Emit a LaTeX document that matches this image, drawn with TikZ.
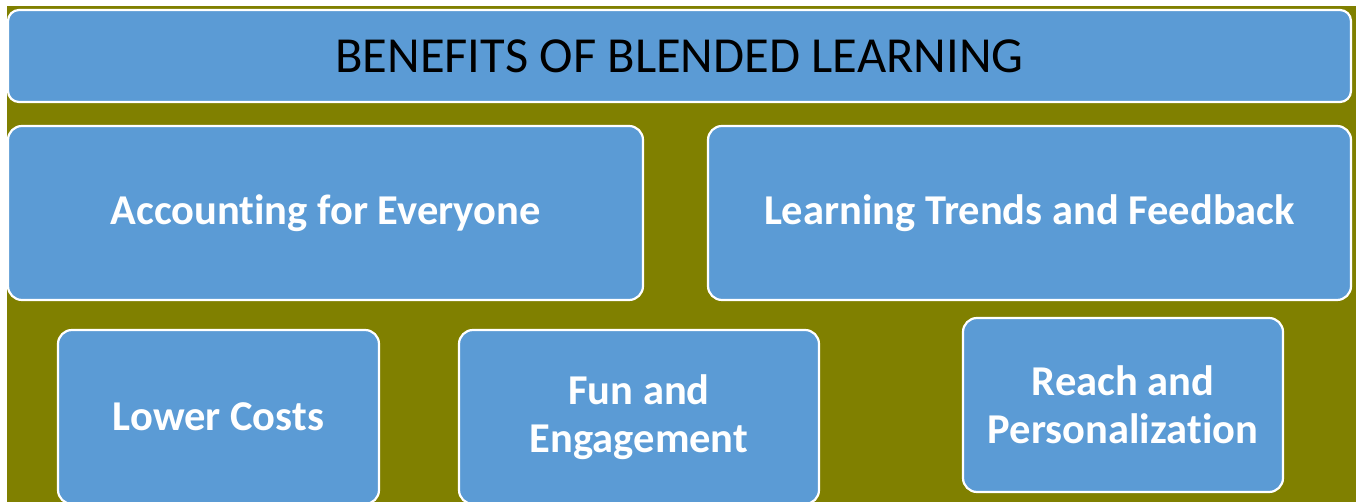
\documentclass[tikz,border=0pt]{standalone}
\usepackage{fontspec}
\setmainfont[Ligatures=NoCommon]{Carlito}
\usepackage{tikz}

\definecolor{boxblue}{HTML}{5B9BD5}
\definecolor{bgolive}{HTML}{808000}

\tikzset{
  panel/.style={draw=white, line width=2.2pt, fill=boxblue, rounded corners=14pt,
    inner sep=0pt, align=center, text=white,
    font=\fontsize{42.5}{48}\selectfont\bfseries},
  banner/.style={panel, rounded corners=11pt, text=black,
    font=\fontsize{50.5}{60}\selectfont}
}

\begin{document}
\begin{tikzpicture}[x=1pt,y=1pt]
\useasboundingbox (0,0) rectangle (1356,502);
\clip (0,0) rectangle (1356,502);
\fill[bgolive] (7,0) rectangle (1356,496);
% title banner
\node[banner, minimum width=1343pt, minimum height=92pt] (title) at (679.5,446) {BENEFITS OF BLENDED LEARNING};
% middle row
\node[panel, minimum width=635pt, minimum height=174pt] (everyone) at (325.5,289) {Accounting for Everyone};
\node[panel, minimum width=643pt, minimum height=174pt] (trends) at (1029.5,289) {Learning Trends and Feedback};
% bottom row
\node[panel, minimum width=321pt, minimum height=174pt] (costs) at (218.5,85) {Lower Costs};
\node[panel, minimum width=360pt, minimum height=174pt] (fun) at (639,85) {Fun and\\Engagement};
\node[panel, minimum width=320pt, minimum height=174pt] (reach) at (1123,97) {Reach and\\Personalization};
\end{tikzpicture}
\end{document}
